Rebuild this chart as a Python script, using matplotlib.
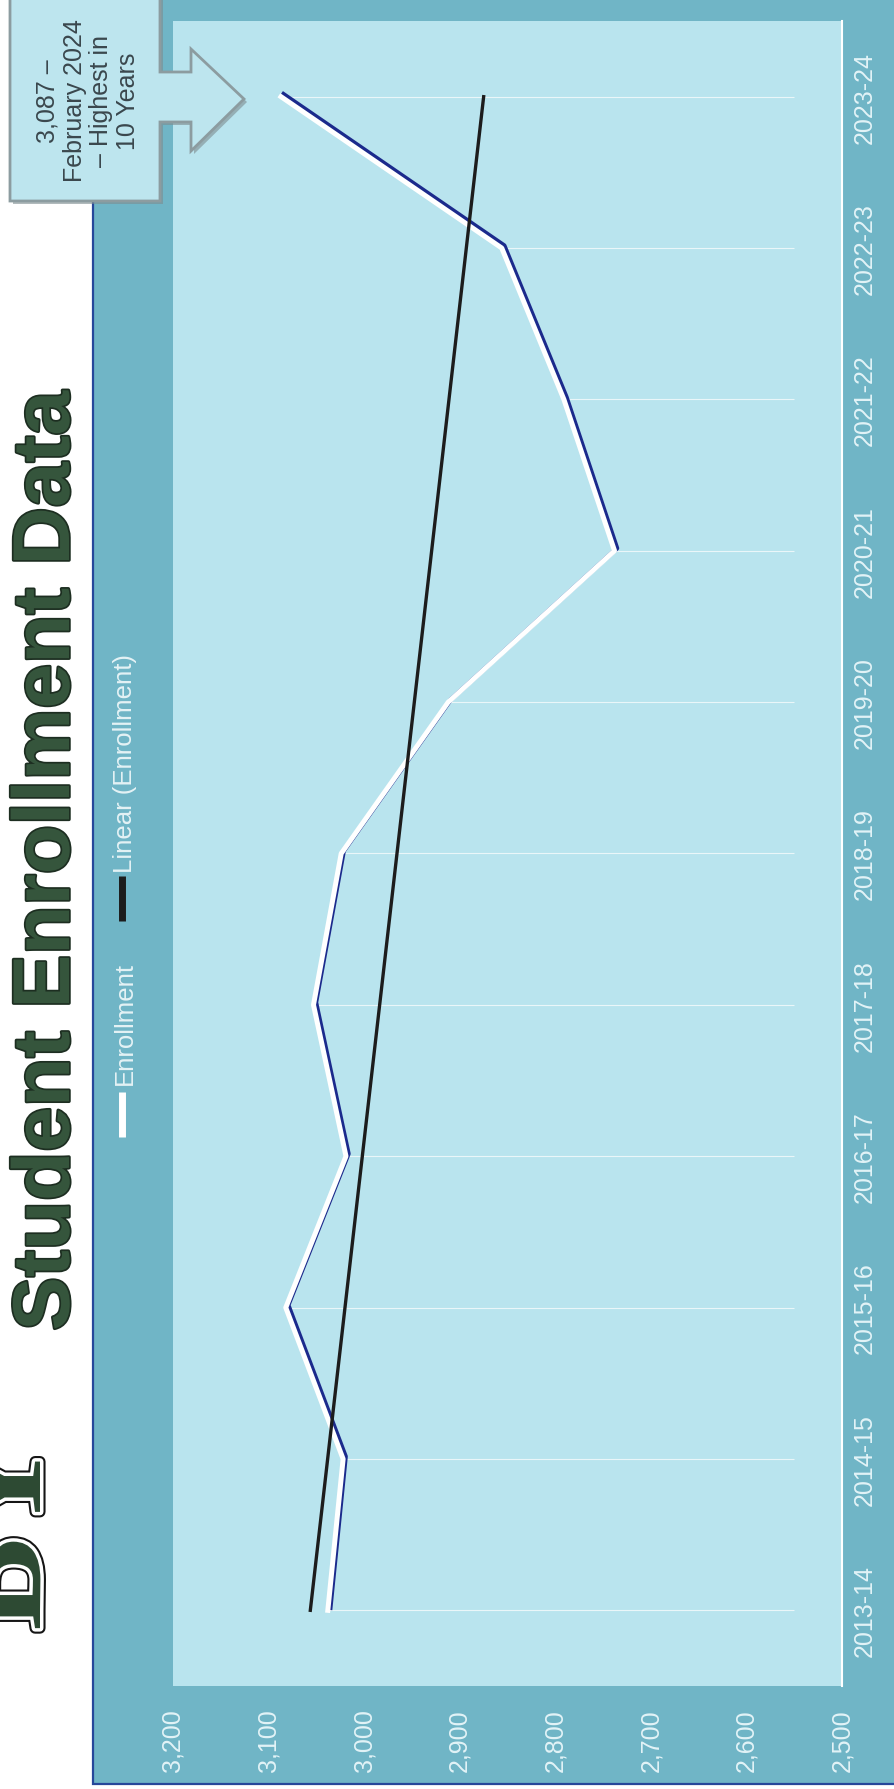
import matplotlib
matplotlib.use('Agg')
import matplotlib.pyplot as plt
import matplotlib.patheffects as pe
import matplotlib.transforms as mtransforms
from matplotlib.patches import Rectangle, Polygon
from matplotlib.ticker import FuncFormatter
import numpy as np

# data
years = ['2013-14', '2014-15', '2015-16', '2016-17', '2017-18', '2018-19',
         '2019-20', '2020-21', '2021-22', '2022-23', '2023-24']
enrollment = [3038, 3022, 3082, 3019, 3053, 3024, 2912, 2738, 2791, 2856, 3087]
value_ticks = [2500, 2600, 2700, 2800, 2900, 3000, 3100, 3200]
title = 'Student Enrollment Data'
callout = '3,087 –\nFebruary 2024\n– Highest in\n10 Years'
legend_labels = ['Enrollment', 'Linear (Enrollment)']

plt.rcParams['font.family'] = ['Liberation Sans', 'DejaVu Sans']

W, H = 894, 1790
fig = plt.figure(figsize=(W / 100, H / 100), dpi=100)
fig.patch.set_facecolor('white')


def rect(x0, y0, x1, y1):
    # pixel box (y measured downward) -> figure fraction rect
    return [x0 / W, 1 - y1 / H, (x1 - x0) / W, (y1 - y0) / H]


# background layer in pixel coords
bg = fig.add_axes([0, 0, 1, 1], zorder=0)
bg.set_xlim(0, W)
bg.set_ylim(H, 0)
bg.axis('off')
bg.add_patch(Rectangle((93, -10), W, 1795, facecolor='#70b5c6',
                       edgecolor='#27479a', lw=1.6))

# title (page is rotated)
bg.text(48, 862, title, rotation=90, ha='center', va='center', fontsize=58,
        fontweight='bold', color='#35553c',
        path_effects=[pe.withStroke(linewidth=2.5, foreground='#1d2e21')])

# logo letters, partly cut by the page edge
bg.text(70, 1535, 'BY', rotation=90, ha='center', va='bottom', fontsize=100,
        fontweight='bold', family='Liberation Serif', color='#2d4a33',
        rotation_mode='anchor',
        path_effects=[pe.Stroke(linewidth=8, foreground='#151515'),
                      pe.Stroke(linewidth=5, foreground='white'),
                      pe.Normal()])

# legend drawn by hand (rotated)
bg.plot([122, 122], [1093, 1138], color='white', lw=5, solid_capstyle='butt')
bg.text(125, 1085, legend_labels[0], rotation=90, ha='center', va='bottom',
        fontsize=18.5, color='#e4f2f5')
bg.plot([122, 122], [877, 922], color='#1c1c1c', lw=5, solid_capstyle='butt')
bg.text(125, 873, legend_labels[1], rotation=90, ha='center', va='bottom',
        fontsize=18.5, color='#e4f2f5')

# plot area
ax = fig.add_axes(rect(173, 22, 842, 1687), zorder=1)
ax.set_facecolor('#b9e4ee')
pos = np.arange(len(years))
ax.set_xlim(3200, 2500)
ax.set_ylim(-0.5, len(years) - 0.5)

# drop lines (faded towards the axis in the scan)
ax.hlines(pos, enrollment, 2550, color='white', lw=0.8, alpha=0.7, zorder=1)

# enrollment line: navy shadow + white line
shadow = ax.transData + mtransforms.ScaledTranslation(2.5 / 100, 2.5 / 100, fig.dpi_scale_trans)
ax.plot(enrollment, pos, color='#1b2a8c', lw=3.2, transform=shadow, zorder=2)
ax.plot(enrollment, pos, color='white', lw=3.6, zorder=3)

# linear trend
coef = np.polyfit(pos, enrollment, 1)
ax.plot(np.polyval(coef, pos), pos, color='#1c1c1c', lw=2.4, zorder=4)

ax.set_xticks(value_ticks)
ax.xaxis.set_major_formatter(FuncFormatter(lambda v, p: f'{v:,.0f}'))
ax.tick_params(axis='x', length=0, pad=16, labelsize=18, labelcolor='#e2f3f7',
               labelrotation=90)
ax.set_yticks(pos)
ax.set_yticklabels(years)
ax.yaxis.tick_right()
ax.tick_params(axis='y', length=0, pad=8, labelsize=18, labelcolor='#e2f3f7',
               labelrotation=90)
for lab in ax.get_yticklabels():
    lab.set_va('center')
for s in ['left', 'top', 'bottom']:
    ax.spines[s].set_visible(False)
ax.spines['right'].set_color('white')
ax.spines['right'].set_linewidth(1.5)

# callout box with arrow
fg = fig.add_axes([0, 0, 1, 1], zorder=3)
fg.set_xlim(0, W)
fg.set_ylim(H, 0)
fg.axis('off')
shape = [(10, -5), (160, -5), (160, 73), (191, 73), (191, 50), (244, 100),
         (191, 152), (191, 123), (160, 123), (160, 202), (10, 202)]
fg.add_patch(Polygon([(x + 3, y + 3) for x, y in shape], closed=True,
                     facecolor='#7d8c90', edgecolor='none', alpha=0.6))
fg.add_patch(Polygon(shape, closed=True, facecolor='#bde5ee',
                     edgecolor='#8c9ca0', lw=2))
fg.text(88, 101, callout, rotation=90, ha='center', va='center', fontsize=18,
        color='#3a474d', multialignment='center', linespacing=1.15)

fig.savefig('out.png', dpi=100, facecolor='white')
